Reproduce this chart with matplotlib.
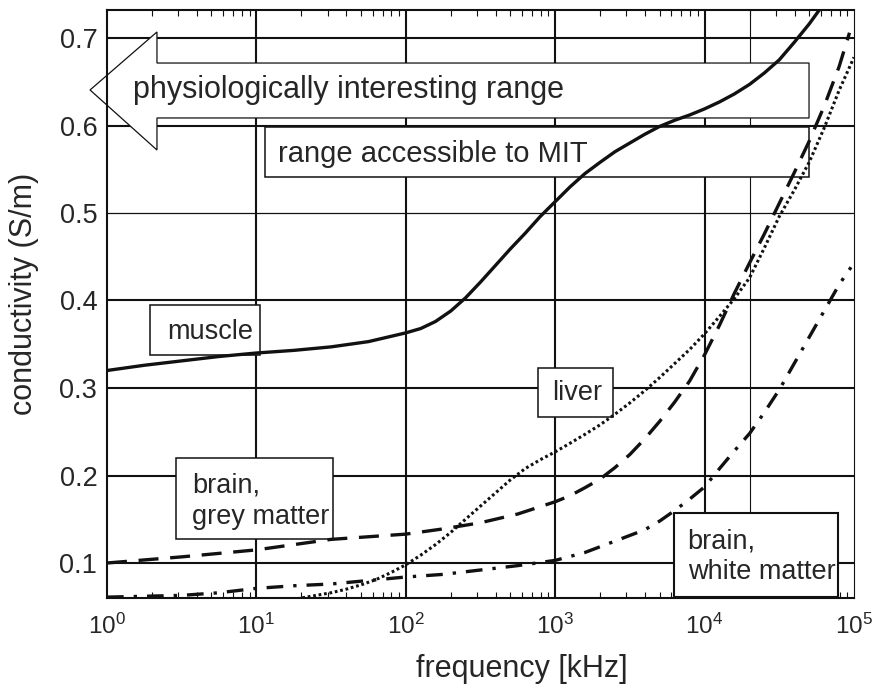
import matplotlib
matplotlib.use("Agg")
import matplotlib.pyplot as plt
from matplotlib.patches import Rectangle, Polygon
from matplotlib.ticker import LogLocator, NullFormatter, FixedLocator

plt.rcParams['font.family'] = ['Liberation Sans', 'DejaVu Sans']
plt.rcParams['mathtext.fontset'] = 'custom'
plt.rcParams['mathtext.rm'] = 'Liberation Sans'
plt.rcParams['mathtext.it'] = 'Liberation Sans:italic'
plt.rcParams['mathtext.bf'] = 'Liberation Sans:bold'

TXT = '#262626'
INK = '#111111'

# ---------------- data (frequency in kHz, conductivity in S/m) ----------------
muscle_f = [1, 1.78, 3.16, 5.62, 10, 17.8, 31.6, 56.2, 100, 126, 158, 200, 251, 316,
            398, 501, 631, 794, 1000, 1260, 1580, 2000, 2510, 3160, 3980, 5010, 6310,
            7940, 10000, 12600, 15800, 20000, 25100, 31600, 39800, 50100, 60300]
muscle_s = [0.320, 0.326, 0.331, 0.336, 0.340, 0.343, 0.347, 0.353, 0.363, 0.368,
            0.376, 0.388, 0.403, 0.421, 0.440, 0.459, 0.477, 0.496, 0.513, 0.530,
            0.545, 0.558, 0.570, 0.580, 0.590, 0.599, 0.606, 0.612, 0.619, 0.627,
            0.636, 0.647, 0.660, 0.675, 0.695, 0.716, 0.735]

grey_f = [1, 3.16, 10, 31.6, 100, 178, 316, 562, 1000, 1260, 1580, 2000, 2510, 3160,
          3980, 5010, 6310, 7940, 10000, 12600, 15800, 20000, 25100, 31600, 39800,
          50100, 63100, 79400, 93300]
grey_s = [0.100, 0.107, 0.115, 0.127, 0.133, 0.139, 0.146, 0.156, 0.170, 0.177,
          0.186, 0.196, 0.209, 0.224, 0.242, 0.262, 0.284, 0.308, 0.338, 0.372,
          0.408, 0.443, 0.476, 0.511, 0.546, 0.582, 0.622, 0.667, 0.706]

liver_f = [15.8, 20, 25.1, 31.6, 39.8, 50.1, 63.1, 79.4, 100, 126, 158, 200, 251,
           316, 398, 501, 631, 794, 1000, 1260, 1580, 2000, 2510, 3160, 3980, 5010,
           6310, 7940, 10000, 12600, 15800, 20000, 25100, 31600, 39800, 50100,
           63100, 79400, 100000]
liver_s = [0.057, 0.060, 0.063, 0.066, 0.070, 0.075, 0.081, 0.089, 0.098, 0.109,
           0.121, 0.135, 0.150, 0.165, 0.180, 0.195, 0.208, 0.218, 0.227, 0.237,
           0.247, 0.258, 0.270, 0.283, 0.297, 0.312, 0.328, 0.344, 0.362, 0.382,
           0.402, 0.426, 0.460, 0.496, 0.526, 0.558, 0.597, 0.640, 0.678]

white_f = [1, 1.78, 3.16, 5.62, 10, 17.8, 31.6, 56.2, 100, 178, 316, 562, 1000,
           1580, 2510, 3980, 5010, 6310, 7940, 10000, 12600, 15800, 20000, 25100,
           31600, 39800, 50100, 63100, 79400, 95500]
white_s = [0.061, 0.062, 0.063, 0.066, 0.071, 0.074, 0.076, 0.080, 0.084, 0.087,
           0.092, 0.097, 0.103, 0.112, 0.125, 0.138, 0.148, 0.160, 0.173, 0.187,
           0.208, 0.228, 0.248, 0.272, 0.298, 0.328, 0.358, 0.388, 0.418, 0.438]

yticks = [0.1, 0.2, 0.3, 0.4, 0.5, 0.6, 0.7]
ytick_labels = ['0.1', '0.2', '0.3', '0.4', '0.5', '0.6', '0.7']
xticks = [1, 10, 100, 1000, 10000, 100000]

# ---------------- figure ----------------
fig = plt.figure(figsize=(8.81, 6.88), dpi=100)
ax = fig.add_axes([107/881, 1-598/688, (854-107)/881, (598-10)/688])
ax.set_xscale('log')
ax.set_xlim(1, 1e5)
ax.set_ylim(0.06, 0.732)
ax.set_axisbelow(True)

# grid
for v in xticks[1:-1]:
    ax.axvline(v, color=INK, lw=1.5, zorder=0.6)
ax.axvline(2e4, color=INK, lw=0.8, zorder=0.6)
for v in yticks:
    ax.axhline(v, color=INK, lw=0.9 if v == 0.5 else 1.5, zorder=0.6)

# annotation boxes
def box(x0, x1, y0, y1, lw=1.1):
    r = Rectangle((x0, y0), x1 - x0, y1 - y0, facecolor='white',
                  edgecolor=INK, lw=lw, zorder=1, clip_on=False)
    ax.add_patch(r)
    return r

box(11.4, 5e4, 0.541, 0.5985)                # MIT range
box(1.94, 10.55, 0.338, 0.395)               # muscle
grey_box = box(2.894, 32.5, 0.1274, 0.220)   # grey matter
box(764, 2427, 0.267, 0.323)                 # liver
white_box = box(6207, 77600, 0.0615, 0.1571, lw=1.5)  # white matter

# big hollow arrow
arrow = Polygon([(0.77, 0.6406), (2.16, 0.7069), (2.16, 0.6714), (5e4, 0.6714),
                 (5e4, 0.6086), (2.16, 0.6086), (2.16, 0.572)], closed=True,
                facecolor='white', edgecolor=INK, lw=0.9, zorder=1, clip_on=False)
ax.add_patch(arrow)

fs_txt = 19.5
ax.text(1.49, 0.6406, 'physiologically interesting range', fontsize=22, color=TXT,
        va='center', ha='left', zorder=1.5)
ax.text(13.9, 0.567, 'range accessible to MIT', fontsize=21, color=TXT,
        va='center', ha='left', zorder=1.5)
ax.text(2.52, 0.364, 'muscle', fontsize=fs_txt, color=TXT, va='center', ha='left', zorder=1.5)
ax.text(961, 0.294, 'liver', fontsize=fs_txt, color=TXT, va='center', ha='left', zorder=1.5)
for txt, yb in [('brain,', 0.180), ('grey matter', 0.1446)]:
    t = ax.text(3.70, yb, txt, fontsize=fs_txt, color=TXT, va='baseline', ha='left',
                zorder=1.5)
    t.set_clip_path(grey_box)
for txt, yb in [('brain,', 0.1171), ('white matter', 0.0817)]:
    t = ax.text(7690, yb, txt, fontsize=fs_txt, color=TXT, va='baseline', ha='left',
                zorder=1.5)
    t.set_clip_path(white_box)

# curves
ax.plot(muscle_f, muscle_s, color=INK, lw=2.4, solid_capstyle='butt', zorder=2)
ax.plot(grey_f, grey_s, color=INK, lw=2.4, linestyle=(0, (6, 3.5)), zorder=2)
ax.plot(liver_f, liver_s, color=INK, lw=2.2, linestyle=(0, (0.9, 0.9)), zorder=2)
ax.plot(white_f, white_s, color=INK, lw=2.4, linestyle=(0, (5, 3, 1, 3)), zorder=2)

# axes styling
for side in ['left', 'bottom', 'top']:
    ax.spines[side].set_linewidth(1.5)
    ax.spines[side].set_color(INK)
ax.spines['right'].set_linewidth(0.8)
ax.spines['right'].set_color(INK)

ax.xaxis.set_major_locator(FixedLocator(xticks))
ax.xaxis.set_minor_locator(LogLocator(base=10, subs=range(2, 10), numticks=20))
ax.xaxis.set_minor_formatter(NullFormatter())
ax.yaxis.set_major_locator(FixedLocator(yticks))
ax.set_yticklabels(ytick_labels)
ax.tick_params(axis='both', which='major', direction='in', length=0, labelcolor=TXT)
ax.tick_params(axis='x', which='major', pad=11, labelsize=17.5)
ax.tick_params(axis='y', which='major', pad=7, labelsize=19.5)
ax.tick_params(axis='x', which='minor', direction='in', length=4, width=0.8,
               top=True, bottom=True, color=INK)

ax.set_xlabel('frequency [kHz]', fontsize=22, color=TXT)
ax.set_ylabel('conductivity (S/m)', fontsize=22, color=TXT)
ax.xaxis.set_label_coords((522 - 107) / 747, (598 - 654) / 588)
ax.yaxis.set_label_coords((39 - 107) / 747, (598 - 294) / 588)

fig.savefig('out.png', dpi=100, facecolor='white')
